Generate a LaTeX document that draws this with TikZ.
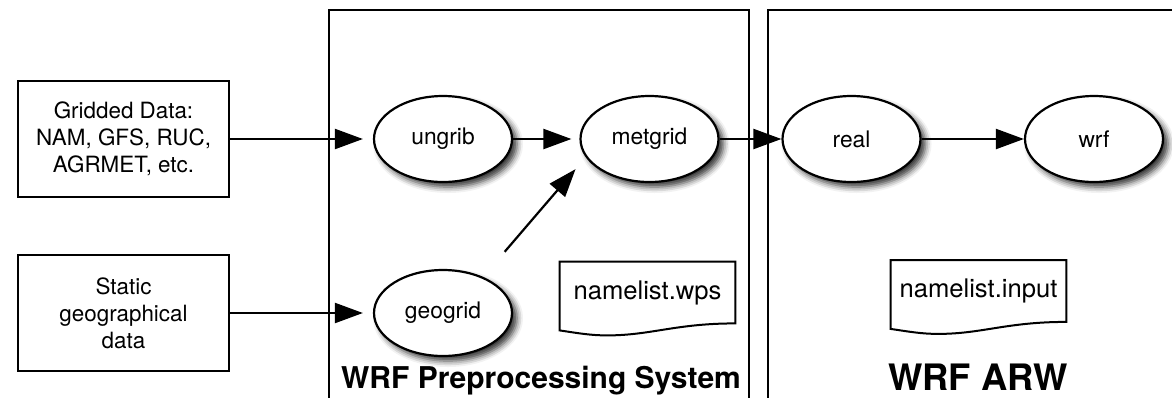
\documentclass[tikz,border=0pt]{standalone}
\usepackage{fontspec}
\setmainfont{TeX Gyre Heros}
\usetikzlibrary{arrows.meta,shapes.geometric,calc,positioning,shadows.blur}
\tikzset{
  srcbox/.style = { draw, line width=1.1pt, minimum width=105.5pt, minimum height=58pt,
    align=center, font=\fontsize{11.2}{13.4}\selectfont },
  prog/.style   = { draw, ellipse, line width=1.1pt, fill=white, minimum width=69pt,
    minimum height=43pt, inner sep=0pt, font=\fontsize{11.4}{13.4}\selectfont,
    blur shadow={shadow xshift=2.5pt, shadow yshift=-2.5pt, shadow blur radius=3pt, shadow opacity=80} },
  doc/.style    = { minimum width=87.5pt, minimum height=30.5pt, inner sep=0pt,
    font=\fontsize{12.8}{15}\selectfont },
  docline/.style = { line width=1pt },
  frame/.style  = { line width=1.1pt },
  flow/.style   = { -{Triangle[length=14pt,width=10pt]}, line width=1.1pt },
  title/.style  = { anchor=base, font=\fontsize{15}{18}\bfseries\selectfont }
}
% document shape with a wavy bottom
\newcommand{\docframe}[1]{%
  \draw[docline] ($(#1.south west)+(0pt,-3.5pt)$) -- (#1.north west) -- (#1.north east) -- (#1.south east)
    .. controls +(-30pt,0pt) and +(22pt,0pt) .. ($(#1.south west)!0.27!(#1.south east)+(0pt,-6pt)$)
    .. controls +(-8pt,0pt) and +(10pt,-1.5pt) .. ($(#1.south west)+(0pt,-3.5pt)$) -- cycle;}

\begin{document}
\begin{tikzpicture}[x=0.5pt,y=-0.5pt]
  \useasboundingbox (0,0) rectangle (1172,397);
  % the two system frames
  \draw[frame] (329,405) -- (329,10) -- (749,10) -- (749,405);
  \draw[frame] (768,405) -- (768,10) -- (1180,10);

  \node[srcbox] (grib) at (123.5,139) {Gridded Data:\\NAM, GFS, RUC,\\AGRMET, etc.};
  \node[srcbox] (static) at (123.5,313) {Static\\geographical\\data};

  \node[prog] (ungrib) at (443,139) {ungrib};
  \node[prog] (metgrid) at (649.5,139) {metgrid};
  \node[prog] (real) at (851.5,139) {real};
  \node[prog] (wrf) at (1094,139) {wrf};
  \node[prog] (geogrid) at (443,313) {geogrid};

  \node[doc] (nlwps) at (647.5,292.5) {namelist.wps};
  \node[doc] (nlinput) at (978.5,291) {namelist.input};
  \docframe{nlwps}
  \docframe{nlinput}

  \node[title] (wpstitle) at (541,388) {WRF Preprocessing System};
  \node[title, font=\fontsize{18.2}{22}\bfseries\selectfont] (arwtitle) at (978,390) {WRF ARW};

  \draw[flow, shorten >=5pt] (grib) -- (ungrib);
  \draw[flow, shorten >=5pt] (static) -- (geogrid);
  \draw[flow, shorten >=4pt] (ungrib) -- (metgrid);
  \draw[flow] (metgrid) -- (real);
  \draw[flow] (real) -- (wrf);
  \draw[flow, shorten <=16.5pt, shorten >=7.8pt] (geogrid.42) -- (metgrid.196);
\end{tikzpicture}
\end{document}
